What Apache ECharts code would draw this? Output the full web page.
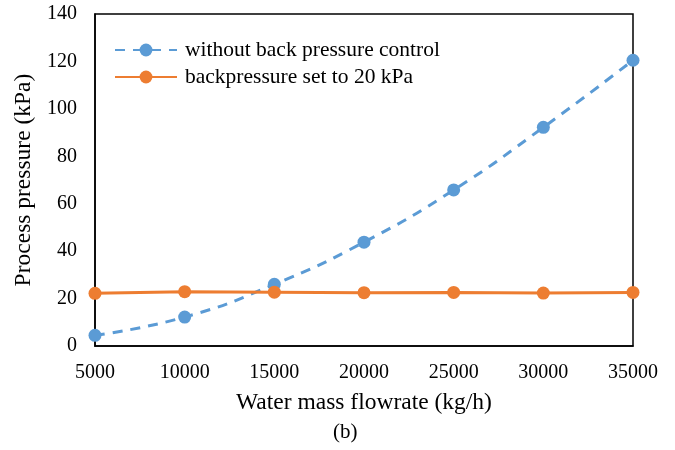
<!DOCTYPE html>
<html><head><meta charset="utf-8">
<script src="https://cdn.jsdelivr.net/npm/echarts@6/dist/echarts.min.js"></script>
<style>html,body{margin:0;padding:0;background:#fff}#c{width:675px;height:450px}</style>
</head><body><div id="c"></div>
<script>
const flowrates = [5000, 10000, 15000, 20000, 25000, 30000, 35000];
const withoutControl = [4.5, 12.2, 26.0, 43.8, 65.8, 92.2, 120.5];
const backpressure20 = [22.2, 22.9, 22.7, 22.5, 22.6, 22.3, 22.6];
const seriesNames = ['without back pressure control', 'backpressure set to 20 kPa'];
const xTitle = 'Water mass flowrate (kg/h)';
const yTitle = 'Process pressure (kPa)';
const caption = '(b)';

const font = 'Liberation Serif';
const chart = echarts.init(document.getElementById('c'));
chart.setOption({
  animation: false,
  backgroundColor: '#fff',
  grid: {left: 95, right: 42, top: 14, bottom: 104, show: true, borderColor: '#000', borderWidth: 1.5, backgroundColor: 'transparent'},
  legend: {
    orient: 'vertical', left: 109, top: 34, itemWidth: 62, itemHeight: 16, itemGap: 5,
    textStyle: {fontFamily: font, fontSize: 21.5, color: '#000', padding: [0, 0, 0, 3]},
    data: seriesNames
  },
  xAxis: {
    type: 'value', min: 5000, max: 35000, interval: 5000,
    axisLine: {show: true, lineStyle: {color: '#000', width: 1.5}},
    axisTick: {show: false}, splitLine: {show: false},
    axisLabel: {fontFamily: font, fontSize: 20, color: '#000', margin: 17, formatter: v => String(v)},
    name: xTitle, nameLocation: 'middle', nameGap: 45,
    nameTextStyle: {fontFamily: font, fontSize: 23.5, color: '#000'}
  },
  yAxis: {
    type: 'value', min: 0, max: 140, interval: 20,
    axisLine: {show: true, lineStyle: {color: '#000', width: 1.5}},
    axisTick: {show: false}, splitLine: {show: false},
    axisLabel: {fontFamily: font, fontSize: 20, color: '#000', margin: 18},
    name: yTitle, nameLocation: 'middle', nameGap: 58,
    nameTextStyle: {fontFamily: font, fontSize: 23.5, color: '#000'}
  },
  graphic: [{type: 'text', left: 333, top: 422, style: {text: caption, font: '21px "Liberation Serif"', fill: '#000'}}],
  series: [
    {
      name: seriesNames[0], type: 'line', smooth: true,
      data: flowrates.map((x, i) => [x, withoutControl[i]]),
      symbol: 'circle', symbolSize: 13,
      itemStyle: {color: '#5B9BD5'},
      lineStyle: {color: '#5B9BD5', width: 3, type: [10, 8]}
    },
    {
      name: seriesNames[1], type: 'line',
      data: flowrates.map((x, i) => [x, backpressure20[i]]),
      symbol: 'circle', symbolSize: 13,
      itemStyle: {color: '#ED7D31'},
      lineStyle: {color: '#ED7D31', width: 3}
    }
  ]
});
</script></body></html>
